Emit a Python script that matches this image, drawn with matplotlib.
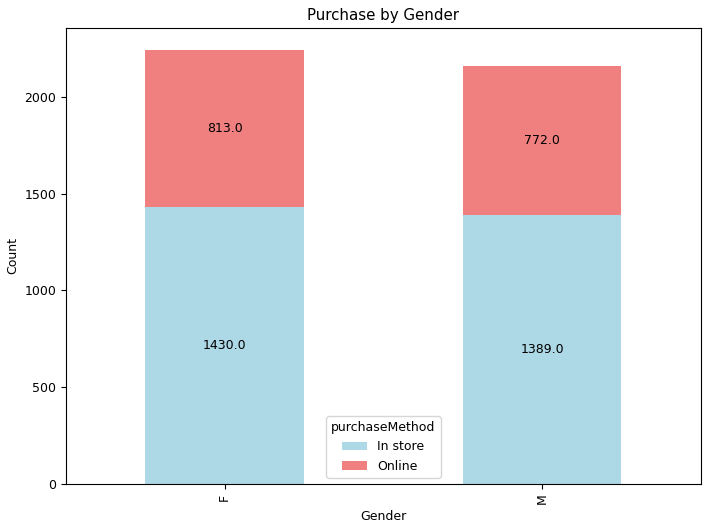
import matplotlib
matplotlib.use("Agg")
import matplotlib.pyplot as plt
import numpy as np

# Data
genders = ["F", "M"]
in_store = [1430.0, 1389.0]
online = [813.0, 772.0]

plt.rcParams["font.size"] = 9

fig = plt.figure(figsize=(7.1, 5.3), dpi=100)
ax = fig.add_axes([0.093, 0.087, 0.894, 0.86])

x = np.arange(len(genders))
b1 = ax.bar(x, in_store, width=0.5, color="lightblue", label="In store")
b2 = ax.bar(x, online, width=0.5, bottom=in_store, color="lightcoral", label="Online")

ax.bar_label(b1, labels=[str(v) for v in in_store], label_type="center")
ax.bar_label(b2, labels=[str(v) for v in online], label_type="center")

ax.set_xticks(x)
ax.set_xticklabels(genders, rotation=90)
ax.set_xlim(-0.5, 1.5)
ax.set_xlabel("Gender")
ax.set_ylabel("Count")
ax.set_title("Purchase by Gender", fontsize=10.8)
ax.legend(title="purchaseMethod", loc="lower center")

fig.savefig("out.png", dpi=100)
